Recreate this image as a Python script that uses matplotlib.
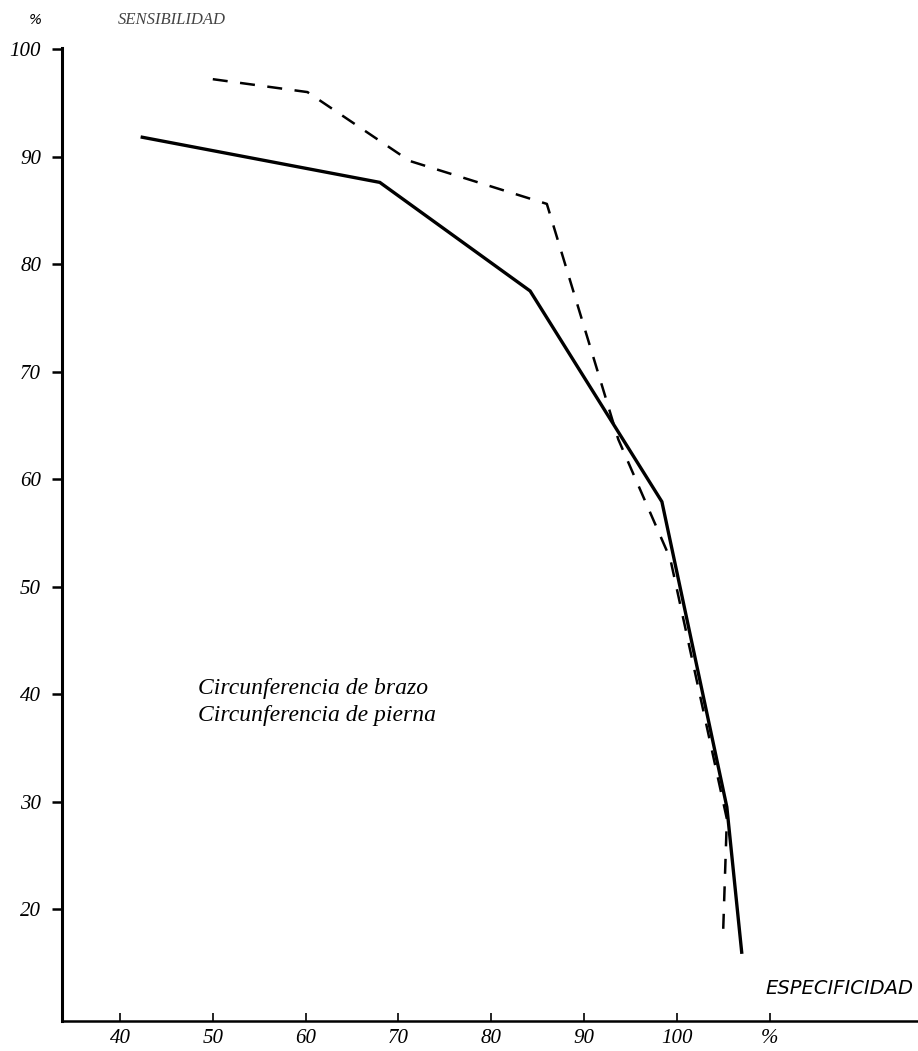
import numpy as np
import matplotlib.pyplot as plt

# curva ROC - circunferencia de brazo (continua) y de pierna (discontinua)
brazo_esp = [42.4, 68.0, 84.2, 98.4, 105.4, 107.0]
brazo_sens = [91.8, 87.6, 77.5, 57.9, 29.5, 16.0]

pierna_esp = [50.0, 60.2, 71.2, 86.0, 93.7, 99.3, 105.4, 105.0]
pierna_sens = [97.2, 96.0, 89.6, 85.6, 63.7, 52.6, 28.4, 17.9]

xticks = [40, 50, 60, 70, 80, 90, 100, 110]
xlabels = ['40', '50', '60', '70', '80', '90', '100', '%']
yticks = [20, 30, 40, 50, 60, 70, 80, 90, 100]

fig = plt.figure(figsize=(9.18, 10.51), dpi=100)
ax = fig.add_axes([62/918, 1-1021/1051, 1-62/918, (1021-48)/1051])

ax.plot(brazo_esp, brazo_sens, color='black', lw=2.4, solid_joinstyle='miter')
ax.plot(pierna_esp, pierna_sens, color='black', lw=1.8, dashes=(6, 5))

ax.set_xlim(33.75, 126)
ax.set_ylim(9.6, 100.1)
ax.spines['top'].set_visible(False)
ax.spines['right'].set_visible(False)
ax.spines['left'].set_linewidth(2.2)
ax.spines['bottom'].set_linewidth(1.8)

ax.set_xticks(xticks)
ax.set_xticklabels(xlabels)
ax.set_yticks(yticks)
ax.tick_params(axis='x', direction='in', length=6, width=1.2,
               labelsize=15, pad=6)
ax.tick_params(axis='y', direction='out', length=7, width=1.8,
               labelsize=15, pad=8)
for lab in ax.get_xticklabels() + ax.get_yticklabels():
    lab.set_fontstyle('italic')
    lab.set_family('Liberation Serif')

ax.text(48.4, 40.5, 'Circunferencia de brazo', fontsize=17, style='italic',
        family='Liberation Serif', va='center')
ax.text(48.4, 38.0, 'Circunferencia de pierna', fontsize=17, style='italic',
        family='Liberation Serif', va='center')

fig.text(35/918, 1-20/1051, '%', fontsize=10, style='italic', ha='center', va='center')
fig.text(118/918, 1-20/1051, 'SENSIBILIDAD', fontsize=12, style='italic',
         family='Liberation Serif', ha='left', va='center', color='#444444')
fig.text(913/918, 1-988/1051, 'ESPECIFICIDAD', fontsize=14, style='italic',
         family='Liberation Sans Narrow', ha='right', va='center')

fig.savefig('out.png', dpi=100, facecolor='white')
